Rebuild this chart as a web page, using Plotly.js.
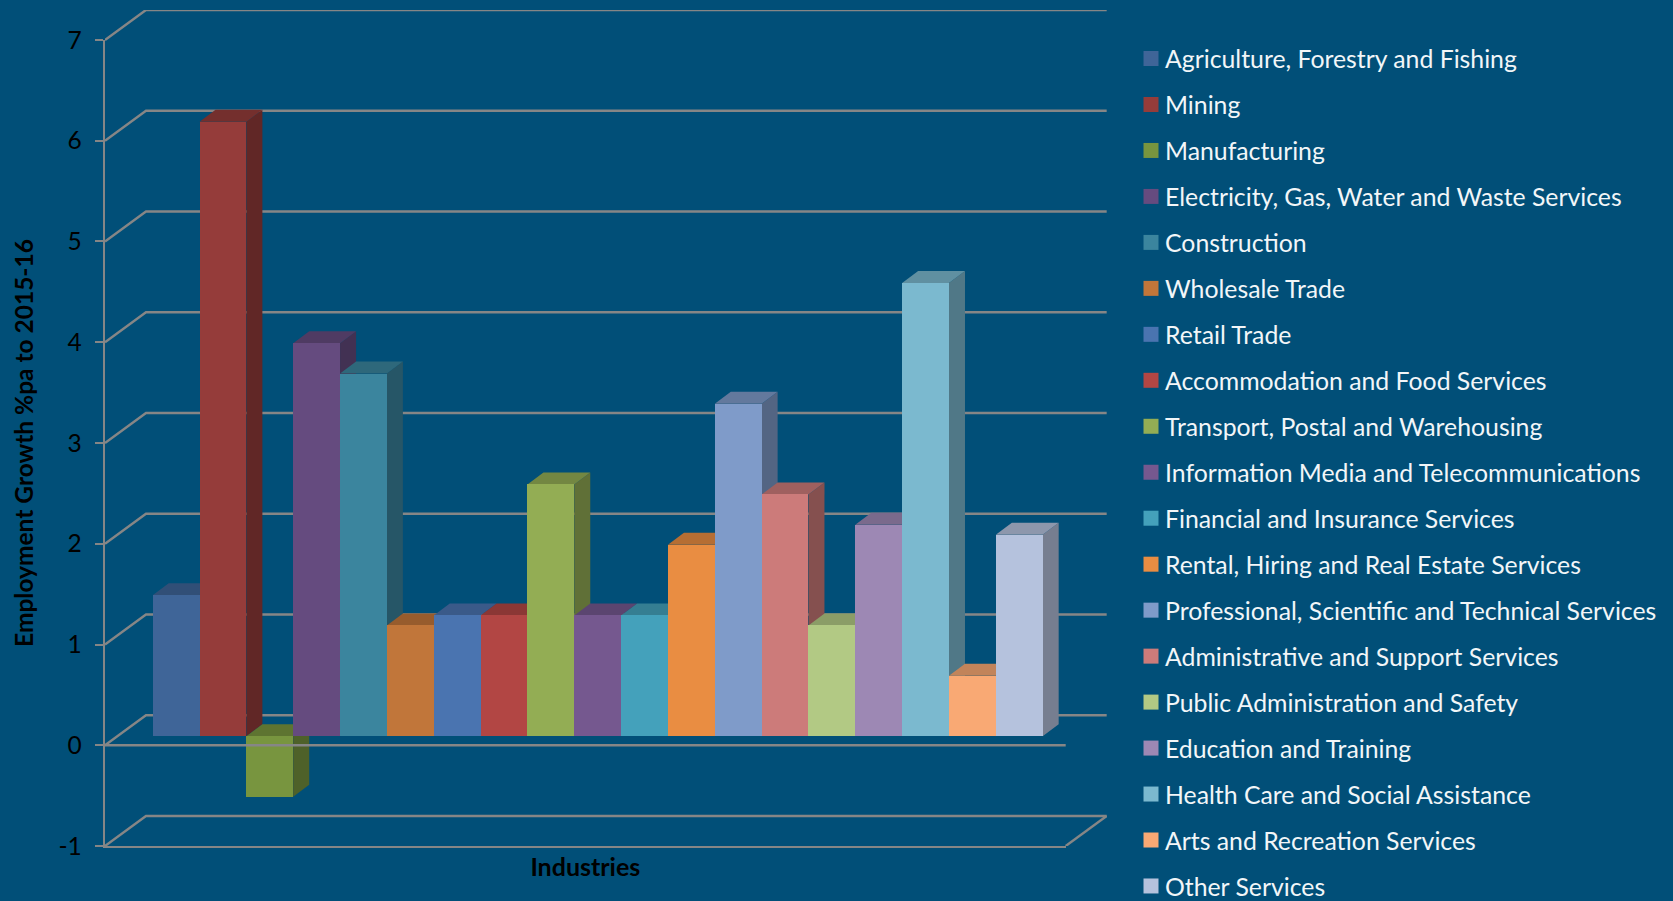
<!DOCTYPE html>
<html><head><meta charset="utf-8">
<script src="https://cdn.plot.ly/plotly-3.0.1.min.js"></script>
<style>html,body{margin:0;padding:0;background:#014f78;overflow:hidden}#c{width:1673px;height:901px}</style>
</head><body><div id="c"></div>
<script>
const industries = ["Agriculture, Forestry and Fishing","Mining","Manufacturing","Electricity, Gas, Water and Waste Services","Construction","Wholesale Trade","Retail Trade","Accommodation and Food Services","Transport, Postal and Warehousing","Information Media and Telecommunications","Financial and Insurance Services","Rental, Hiring and Real Estate Services","Professional, Scientific and Technical Services","Administrative and Support Services","Public Administration and Safety","Education and Training","Health Care and Social Assistance","Arts and Recreation Services","Other Services"];
const growth = [1.4,6.1,-0.6,3.9,3.6,1.1,1.2,1.2,2.5,1.2,1.2,1.9,3.3,2.4,1.1,2.1,4.5,0.6,2.0];
const colours = ["#3f6598","#953c3a","#78953f","#654b7f","#3b859e","#c1763a","#4a74b0","#b24644","#93ad54","#75588f","#44a1bb","#e98d42","#7f9bc9","#cc7b7a","#b2c984","#9d88b4","#7bb9cf","#f9a974","#b5c2dd"];
const yTicks = [-1,0,1,2,3,4,5,6,7];

const xRange = [-1.518,18.992], yRange = [-1,7];
const lift = 0.089;            // bars stand slightly above the front floor line
const wallX = 0.875, wallY = 0.298;   // depth of the chart box
const barX = 0.342, barY = 0.119;     // depth of each bar
const half = 0.5;
const grey = "#868686";

function shade(hex,f){
  const n=parseInt(hex.slice(1),16);
  const c=[n>>16,(n>>8)&255,n&255].map(v=>Math.round(v*f));
  return `rgb(${c.join(",")})`;
}
const traces = [];

// back wall and left wall lines
const wx=[],wy=[];
yTicks.forEach(v=>{
  wx.push(xRange[0],xRange[0]+wallX,xRange[1]+wallX,null);
  wy.push(v,v+wallY,v+wallY,null);
});
wx.push(xRange[1],xRange[1]+wallX); wy.push(-1,-1+wallY);
traces.push({x:wx,y:wy,mode:"lines",line:{color:grey,width:2.4},showlegend:false,hoverinfo:"skip",xaxis:"x",yaxis:"y"});

// side and top faces, painted left to right
growth.forEach((v,i)=>{
  const l=i-half,r=i+half,hi=Math.max(v,0)+lift,lo=Math.min(v,0)+lift;
  traces.push({x:[r,r+barX,r+barX,r,r],y:[lo,lo+barY,hi+barY,hi,lo],mode:"lines",fill:"toself",fillcolor:shade(colours[i],0.65),line:{width:0},showlegend:false,hoverinfo:"skip",xaxis:"x",yaxis:"y"});
  traces.push({x:[l,r,r+barX,l+barX,l],y:[hi,hi,hi+barY,hi+barY,hi],mode:"lines",fill:"toself",fillcolor:shade(colours[i],0.78),line:{width:0},showlegend:false,hoverinfo:"skip",xaxis:"x",yaxis:"y"});
});

// bar fronts, one series per industry
growth.forEach((v,i)=>{
  traces.push({type:"bar",name:industries[i],legendgroup:industries[i],x:[i],y:[v],width:[1],
    marker:{color:colours[i],line:{width:0}},xaxis:"x2",yaxis:"y2"});
});

// front floor line drawn over the bars
traces.push({x:[xRange[0],xRange[1]+0.02],y:[0,0],mode:"lines",line:{color:grey,width:2.4},showlegend:false,hoverinfo:"skip",xaxis:"x2",yaxis:"y3"});

const plotW = 1673-105-566, plotH = 901-9.5-55.3;
const xFrac = 960.7/plotW, yFrac = (plotH-30)/plotH;
const layout = {
  width:1673,height:901,
  paper_bgcolor:"#014f78",plot_bgcolor:"rgba(0,0,0,0)",
  margin:{l:105,r:566,t:9.5,b:55.3,pad:0},
  font:{family:"Lato, sans-serif"},
  barmode:"overlay",bargap:0,
  xaxis:{domain:[0,1],range:[xRange[0],xRange[0]+(xRange[1]-xRange[0])/xFrac],visible:false},
  yaxis:{domain:[0,1],range:[yRange[0],yRange[0]+(yRange[1]-yRange[0])/yFrac],visible:false},
  xaxis2:{domain:[0,xFrac],anchor:"y2",range:xRange,type:"linear",showgrid:false,zeroline:false,showticklabels:false,ticks:"",showline:true,linecolor:grey,linewidth:2.4,
    title:{text:"Industries",font:{family:"Lato, sans-serif",size:25,color:"#000",weight:700},standoff:11}},
  yaxis2:{domain:[0,yFrac],anchor:"x2",range:[yRange[0]-lift,yRange[1]-lift],visible:false},
  yaxis3:{overlaying:"y2",anchor:"x2",side:"left",range:yRange,tickvals:yTicks,ticktext:yTicks.map(String),showgrid:false,zeroline:false,showline:true,linecolor:grey,linewidth:2.4,ticks:"outside",ticklen:8,tickcolor:grey,tickwidth:2,ticklabelstandoff:8,
    tickfont:{family:"Lato, sans-serif",size:24.5,color:"#000"},
    title:{text:"Employment Growth %pa to 2015-16",font:{family:"Lato, sans-serif",size:24.5,color:"#000",weight:700},standoff:18}},
  legend:{xref:"container",yref:"container",x:1125/1673,y:1-35.9/901,yanchor:"top",xanchor:"left",traceorder:"grouped",tracegroupgap:10.73,maxheight:901,
    font:{family:"Lato, sans-serif",size:24.8,color:"#f2f6f8"},bgcolor:"rgba(0,0,0,0)",borderwidth:0},
  showlegend:true
};
Plotly.newPlot("c",traces,layout,{staticPlot:true,displayModeBar:false}).then(gd=>{
  gd.querySelectorAll(".legend .legendpoints").forEach(g=>g.setAttribute("transform","translate(1,0) scale(1.25)"));
});
</script></body></html>
